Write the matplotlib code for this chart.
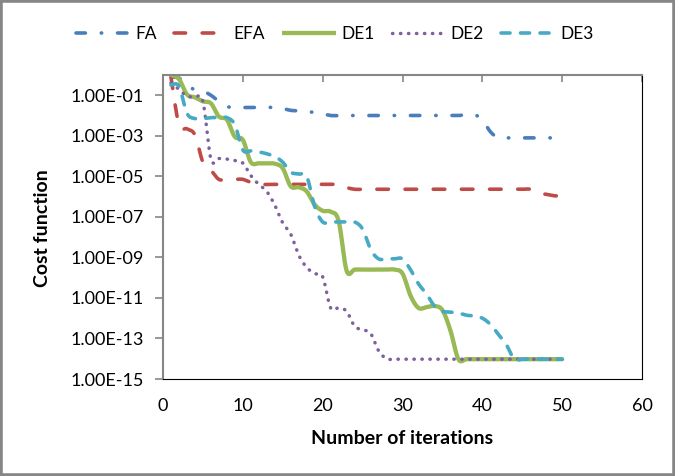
import numpy as np
import matplotlib
matplotlib.use('Agg')
import matplotlib.pyplot as plt
from matplotlib.lines import Line2D
from matplotlib.patches import Rectangle
from matplotlib.ticker import FixedLocator, FuncFormatter, NullLocator

plt.rcParams['font.family'] = ['Lato', 'DejaVu Sans']

iterations = list(range(1, 51))

# cost per iteration (log scale)
fa = [7.9e-1, 7.1e-1, 3.5e-1, 1.8e-1, 1.6e-1, 1.0e-1, 5.0e-2, 2.8e-2, 2.5e-2, 2.5e-2,
      2.5e-2, 2.5e-2, 2.5e-2, 2.5e-2, 2.2e-2, 1.8e-2, 1.7e-2, 1.6e-2, 1.4e-2, 1.2e-2,
      1.0e-2, 1.0e-2, 1.0e-2, 1.0e-2, 1.0e-2, 1.0e-2, 1.0e-2, 1.0e-2, 1.0e-2, 1.0e-2,
      1.0e-2, 1.0e-2, 1.0e-2, 1.0e-2, 1.0e-2, 1.0e-2, 1.0e-2, 1.1e-2, 1.1e-2, 6.3e-3,
      1.6e-3, 7.9e-4, 7.9e-4, 7.9e-4, 7.9e-4, 7.9e-4, 7.9e-4, 7.9e-4, 7.9e-4, 7.9e-4]
efa = [7.9e-1, 3.5e-3, 2.2e-3, 1.1e-3, 5.0e-5, 2.0e-5, 7.1e-6, 7.1e-6, 7.1e-6, 7.1e-6,
       5.0e-6, 4.0e-6, 4.0e-6, 4.0e-6, 4.0e-6, 4.0e-6, 4.0e-6, 4.0e-6, 4.0e-6, 4.0e-6,
       4.0e-6, 4.0e-6, 2.8e-6, 2.3e-6, 2.3e-6, 2.3e-6, 2.3e-6, 2.3e-6, 2.3e-6, 2.3e-6,
       2.3e-6, 2.3e-6, 2.3e-6, 2.3e-6, 2.3e-6, 2.3e-6, 2.3e-6, 2.3e-6, 2.3e-6, 2.3e-6,
       2.3e-6, 2.3e-6, 2.3e-6, 2.3e-6, 2.3e-6, 2.3e-6, 1.5e-6, 1.3e-6, 1.1e-6, 1.07e-6]
de1 = [1.0e0, 6.3e-1, 1.1e-1, 7.9e-2, 5.0e-2, 4.0e-2, 8.9e-3, 6.3e-3, 8.9e-4, 6.3e-4,
       5.0e-5, 4.4e-5, 4.4e-5, 4.2e-5, 2.5e-5, 3.2e-6, 2.9e-6, 1.8e-6, 4.0e-7, 2.0e-7,
       1.8e-7, 6.3e-8, 2.2e-10, 2.5e-10, 2.5e-10, 2.5e-10, 2.5e-10, 2.5e-10, 2.5e-10, 1.6e-10,
       1.3e-11, 3.2e-12, 3.5e-12, 4.0e-12, 2.5e-12, 2.5e-13, 9.5e-15, 9.5e-15, 9.5e-15, 9.5e-15,
       9.5e-15, 9.5e-15, 9.5e-15, 9.5e-15, 9.5e-15, 9.5e-15, 9.5e-15, 9.5e-15, 9.5e-15, 9.5e-15]
de2 = [4.0e-1, 2.0e-1, 8.9e-2, 8.3e-2, 5.0e-2, 7.1e-5, 7.6e-5, 7.1e-5, 6.0e-5, 4.5e-5,
       1.1e-5, 4.0e-6, 1.8e-6, 3.8e-7, 5.0e-8, 1.4e-8, 1.3e-9, 3.2e-10, 1.6e-10, 1.1e-10,
       3.2e-12, 3.2e-12, 2.2e-12, 4.0e-13, 2.7e-13, 1.8e-13, 2.5e-14, 1.0e-14, 9.5e-15, 9.5e-15,
       9.5e-15, 9.5e-15, 9.5e-15, 9.5e-15, 9.5e-15, 9.5e-15, 9.5e-15, 9.5e-15, 9.5e-15, 9.5e-15,
       9.5e-15, 9.5e-15, 9.5e-15, 9.5e-15, 9.5e-15, 9.5e-15, 9.5e-15, 9.5e-15, 9.5e-15, 9.5e-15]
de3 = [3.2e-1, 2.8e-1, 1.3e-2, 7.1e-3, 7.1e-3, 7.9e-3, 7.9e-3, 7.9e-3, 3.5e-3, 2.0e-4,
       1.8e-4, 1.6e-4, 1.3e-4, 9.5e-5, 5.0e-5, 1.6e-5, 1.3e-5, 1.0e-5, 3.2e-7, 5.6e-8,
       5.6e-8, 5.6e-8, 5.6e-8, 5.6e-8, 2.5e-8, 2.5e-9, 8.5e-10, 8.5e-10, 8.5e-10, 8.5e-10,
       2.5e-10, 5.0e-11, 1.6e-11, 4.0e-12, 2.2e-12, 2.0e-12, 1.8e-12, 1.4e-12, 1.3e-12, 1.0e-12,
       5.0e-13, 1.6e-13, 5.0e-14, 9.5e-15, 9.5e-15, 9.5e-15, 9.5e-15, 9.5e-15, 9.5e-15, 9.5e-15]

names = ['FA', 'EFA', 'DE1', 'DE2', 'DE3']
series = [fa, efa, de1, de2, de3]

styles = {
    'FA': dict(color='#4A7EBB', lw=2.6, dashes=(2.6, 4.4, 0.1, 4.4)),
    'EFA': dict(color='#BE4B48', lw=2.6, dashes=(3.2, 4.6)),
    'DE1': dict(color='#98B954', lw=3.1, dashes=None),
    'DE2': dict(color='#7D60A0', lw=2.5, dashes=(0.1, 2.2)),
    'DE3': dict(color='#46AAC5', lw=2.6, dashes=(2.5, 2.9)),
}


def smooth(x, y, n=16):
    # excel-like smoothed line (catmull-rom in x / log10(y) space)
    x = np.asarray(x, float)
    ly = np.log10(np.asarray(y, float))
    px = np.concatenate([[x[0]], x, [x[-1]]])
    py = np.concatenate([[ly[0]], ly, [ly[-1]]])
    t = np.linspace(0, 1, n, endpoint=False)
    h00 = 2*t**3 - 3*t**2 + 1
    h10 = t**3 - 2*t**2 + t
    h01 = -2*t**3 + 3*t**2
    h11 = t**3 - t**2
    xs, ys = [], []
    for i in range(1, len(px) - 2):
        for p, out in ((px, xs), (py, ys)):
            m1 = (p[i+1] - p[i-1]) / 2
            m2 = (p[i+2] - p[i]) / 2
            out.append(h00*p[i] + h10*m1 + h01*p[i+1] + h11*m2)
    xs.append([x[-1]])
    ys.append([ly[-1]])
    return np.concatenate(xs), 10 ** np.concatenate(ys)


fig = plt.figure(figsize=(6.75, 4.76), dpi=100)
ax = fig.add_axes([163/675, 1-379/476, 479/675, 304/476])

handles = []
for name, vals in zip(names, series):
    st = styles[name]
    sx, sy = smooth(iterations, vals)
    line, = ax.plot(sx, sy, color=st['color'], lw=st['lw'],
                    solid_capstyle='round', dash_capstyle='round')
    if st['dashes']:
        line.set_dashes(st['dashes'])
    h = Line2D([], [], color=st['color'], lw=st['lw'], dash_capstyle='round',
               solid_capstyle='butt')
    if st['dashes']:
        h.set_dashes(st['dashes'])
    handles.append(h)

ax.set_yscale('log')
ax.set_ylim(1e-15, 1e0)
ax.set_xlim(0, 60)
ax.yaxis.set_major_locator(FixedLocator([10.0**e for e in range(-15, 0, 2)]))
ax.yaxis.set_minor_locator(NullLocator())
ax.yaxis.set_major_formatter(FuncFormatter(lambda v, p: f"{v:.2E}"))
ax.set_xticks(range(0, 61, 10))

gray = '#868686'
ax.tick_params(axis='x', bottom=False, top=True, labelbottom=True, labeltop=False,
               direction='in', length=5, width=1.2, color=gray, pad=14, labelsize=13)
ax.tick_params(axis='y', direction='out', length=6, width=1.2, color=gray, pad=8,
               labelsize=13)
for s in ('top', 'left'):
    ax.spines[s].set_color(gray)
    ax.spines[s].set_linewidth(1.5)
for s in ('bottom', 'right'):
    ax.spines[s].set_color('black')
    ax.spines[s].set_linewidth(0.8)

fig.text(402/675, 1-438/476, 'Number of iterations', ha='center', va='center',
         fontsize=14, fontweight='bold')
fig.text(42/675, 1-228/476, 'Cost function', ha='center', va='center',
         fontsize=14, fontweight='bold', rotation=90)

fig.legend(handles, names, loc='center', bbox_to_anchor=(335/675, 1-34/476), ncol=5,
           frameon=False, handlelength=3.1, handletextpad=0.3, columnspacing=1.0,
           fontsize=12.5)

fig.patches.append(Rectangle((0, 0), 1, 1, transform=fig.transFigure, fill=False,
                             edgecolor=gray, linewidth=4))

fig.savefig('out.png', dpi=100)
